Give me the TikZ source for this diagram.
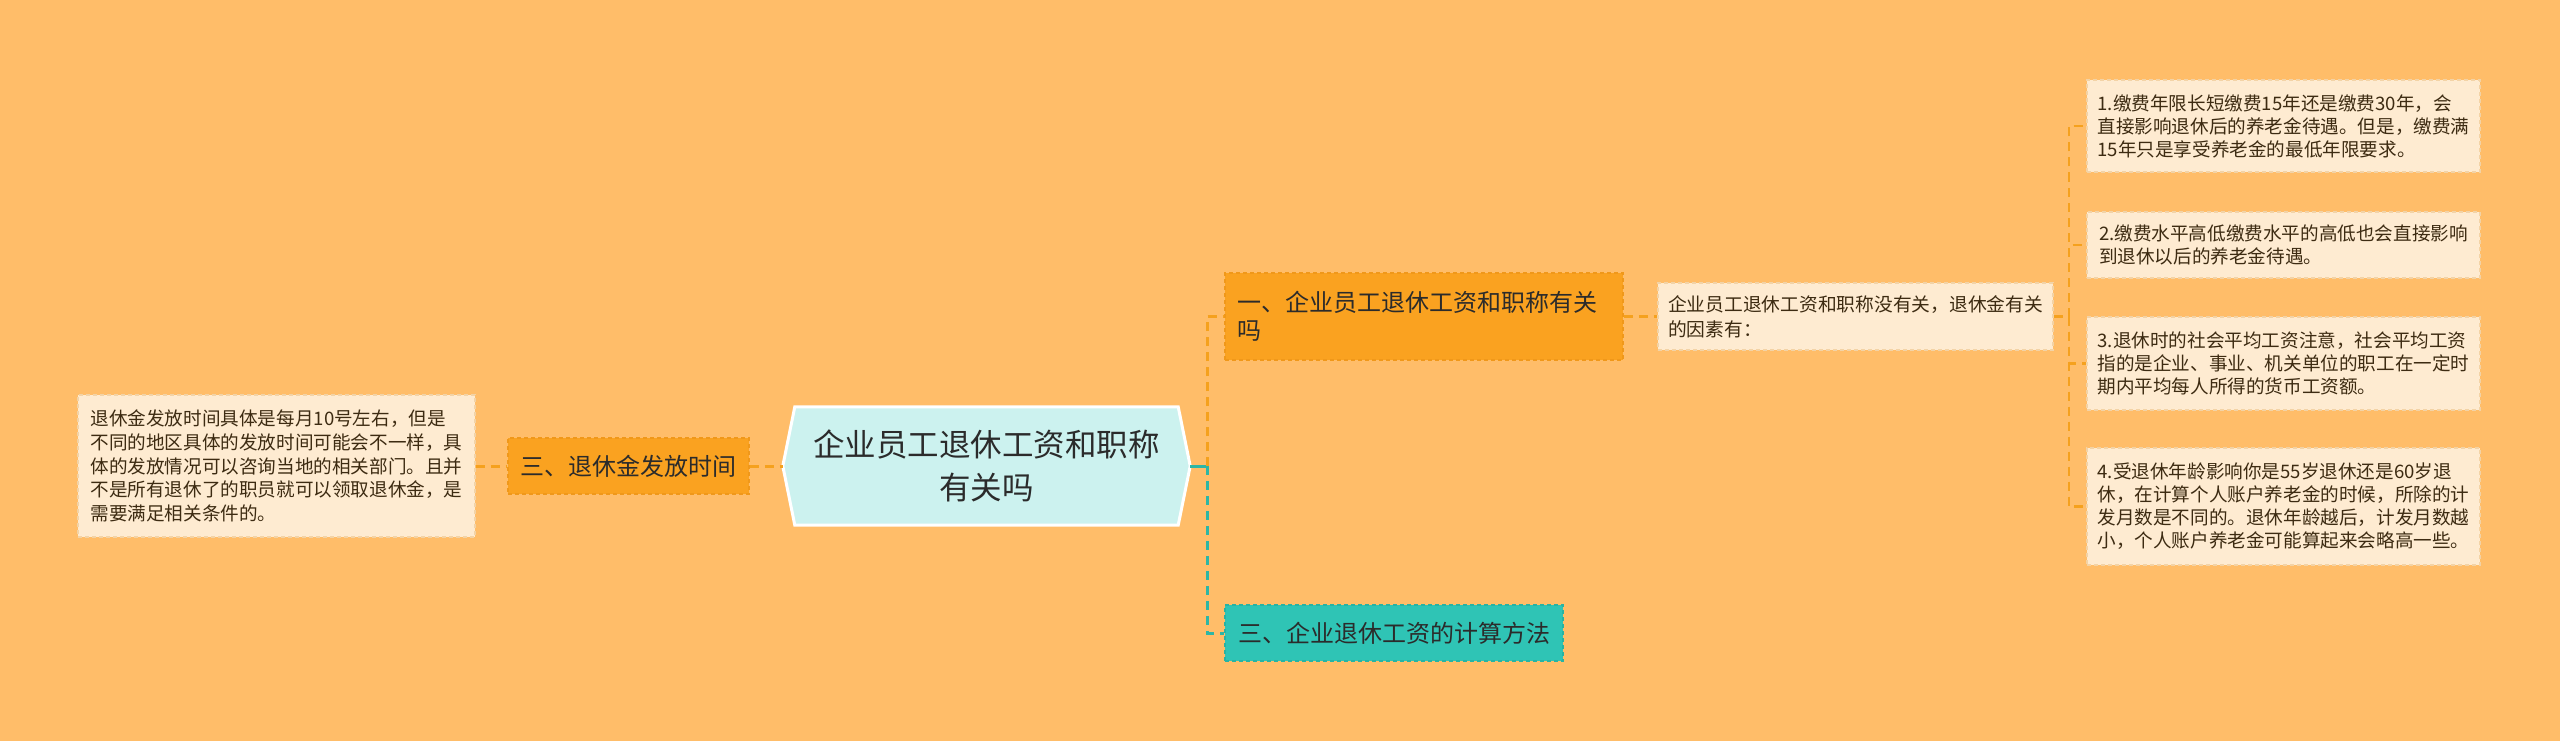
\documentclass[tikz,border=0pt]{standalone}
\usepackage{fontspec}
\setmainfont{Noto Sans CJK SC}
\definecolor{bg}{HTML}{FFBD69}
\definecolor{orfill}{HTML}{FAA220}
\definecolor{orline}{HTML}{F5A11E}
\definecolor{orborder}{HTML}{F0981A}
\definecolor{cream}{HTML}{FEEBD1}
\definecolor{creamborder}{HTML}{F3D3A6}
\definecolor{tealfill}{HTML}{2FC4B5}
\definecolor{tealline}{HTML}{2DB6A5}
\definecolor{tealborder}{HTML}{28B3A3}
\definecolor{rootfill}{HTML}{CCF2EF}
\definecolor{txtdark}{HTML}{2B2B2B}
\definecolor{txtbrown}{HTML}{3D2B12}
\tikzset{
  leafbox/.style={draw=creamborder, fill=cream, dashed, dash pattern=on 4pt off 3pt, line width=1.5pt,
    text=txtbrown, align=left, inner xsep=9pt, inner ysep=6pt, minimum width=393pt,
    font=\fontsize{18.6}{23}\selectfont},
  orbox/.style={draw=orborder, fill=orfill, dashed, dash pattern=on 4pt off 3pt, line width=1.5pt,
    text=txtdark, font=\fontsize{24}{28}\selectfont},
  tealbox/.style={draw=tealborder, fill=tealfill, dashed, dash pattern=on 4pt off 3pt, line width=1.5pt,
    text=txtdark, font=\fontsize{24}{28}\selectfont},
  orconn/.style={draw=orline, line width=3pt, dash pattern=on 9pt off 6pt},
  tealconn/.style={draw=tealline, line width=3pt, dash pattern=on 9pt off 6pt},
}
\begin{document}
\begin{tikzpicture}[x=1pt,y=-1pt]
\fill[bg] (0,0) rectangle (2560,741);
\useasboundingbox (0,0) rectangle (2560,741);

% root
\node[minimum width=407pt, minimum height=118pt, inner sep=0pt] (root) at (986.5,466) {};
\fill[rootfill, draw=white, line width=3pt]
  (root.west) -- ([xshift=12pt]root.north west) -- ([xshift=-12pt]root.north east)
  -- (root.east) -- ([xshift=-12pt]root.south east) -- ([xshift=12pt]root.south west) -- cycle;
\node[align=center, text=txtdark, font=\fontsize{31.5}{43}\selectfont] (rootlabel) at (root.center)
  {企业员工退休工资和职称\\有关吗};

% left branch
\node[orbox, minimum width=241pt, minimum height=56pt, inner sep=0pt] (left1) at (628.5,466) {三、退休金发放时间};
\node[leafbox, minimum width=397pt, minimum height=142pt, inner xsep=11pt, font=\fontsize{18.6}{23.75}\selectfont] (leftleaf) at (276.5,466)
  {退休金发放时间具体是每月10号左右，但是\\不同的地区具体的发放时间可能会不一样，具\\体的发放情况可以咨询当地的相关部门。且并\\不是所有退休了的职员就可以领取退休金，是\\需要满足相关条件的。};

% right branches
\node[orbox, text width=374pt, align=left, inner xsep=12pt, inner ysep=0pt, minimum height=87pt] (right1) at (1424,316.5)
  {一、企业员工退休工资和职称有关\\吗};
\node[tealbox, minimum width=338pt, minimum height=56pt, inner sep=0pt] (right2) at (1394,633) {三、企业退休工资的计算方法};

\node[leafbox, minimum width=395pt, minimum height=67pt, font=\fontsize{18.75}{25}\selectfont] (mid) at (1855.5,316.5)
  {企业员工退休工资和职称没有关，退休金有关\\的因素有：};

\node[leafbox, minimum height=92pt] (leafa) at (2283.5,126)
  {1.缴费年限长短缴费15年还是缴费30年，会\\直接影响退休后的养老金待遇。但是，缴费满\\15年只是享受养老金的最低年限要求。};
\node[leafbox, minimum height=66pt] (leafb) at (2283.5,245)
  {2.缴费水平高低缴费水平的高低也会直接影响\\到退休以后的养老金待遇。};
\node[leafbox, minimum height=93pt] (leafc) at (2283.5,363.5)
  {3.退休时的社会平均工资注意，社会平均工资\\指的是企业、事业、机关单位的职工在一定时\\期内平均每人所得的货币工资额。};
\node[leafbox, minimum height=117pt] (leafd) at (2283.5,506.5)
  {4.受退休年龄影响你是55岁退休还是60岁退\\休，在计算个人账户养老金的时候，所除的计\\发月数是不同的。退休年龄越后，计发月数越\\小，个人账户养老金可能算起来会略高一些。};

% connectors
\draw[orconn] (leftleaf.east) -- (left1.west);
\draw[orconn] (left1.east) -- (root.west);

\coordinate (jr) at (1207,466);
\draw[draw=tealline, line width=3pt] (root.east) -- (jr);
\draw[orconn] (jr) |- (right1.west);
\draw[tealconn] (jr) |- (right2.west);

\draw[orconn, line width=2.5pt] (right1.east) -- (mid.west);

\coordinate (jl) at (2069,316.5);
\draw[orconn, line width=2.5pt] (mid.east) -- (jl);
\draw[orconn, line width=2.5pt] (jl) |- (leafa.west);
\draw[orconn, line width=2.5pt] (jl) |- (leafb.west);
\draw[orconn, line width=2.5pt] (jl) |- (leafc.west);
\draw[orconn, line width=2.5pt] (jl) |- (leafd.west);
\end{tikzpicture}
\end{document}
